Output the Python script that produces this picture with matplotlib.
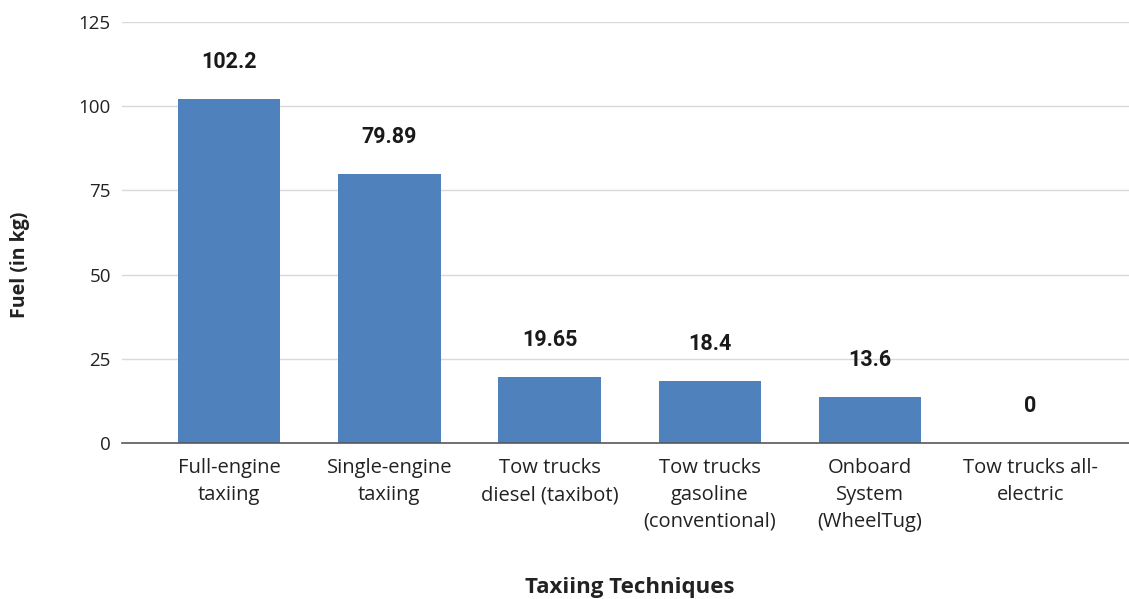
import matplotlib
matplotlib.use("Agg")
import matplotlib.pyplot as plt

plt.rcParams['font.family'] = ['Open Sans', 'DejaVu Sans']

techniques = ["Full-engine\ntaxiing", "Single-engine\ntaxiing", "Tow trucks\ndiesel (taxibot)",
              "Tow trucks\ngasoline\n(conventional)", "Onboard\nSystem\n(WheelTug)", "Tow trucks all-\nelectric"]
fuel = [102.2, 79.89, 19.65, 18.4, 13.6, 0]
value_labels = ["102.2", "79.89", "19.65", "18.4", "13.6", "0"]
y_ticks = [0, 25, 50, 75, 100, 125]

fig = plt.figure(figsize=(11.29, 5.99), dpi=100)
ax = fig.add_axes([122 / 1129, 1 - 443 / 599, 1007 / 1129, (443 - 22) / 599])

x = list(range(len(techniques)))
bars = ax.bar(x, fuel, width=0.64, color="#4f81bd", zorder=3)

# value label above each bar
for b, lab in zip(bars, value_labels):
    ax.annotate(lab, (b.get_x() + b.get_width() / 2, b.get_height()),
                xytext=(0, 26.6), textcoords="offset points",
                ha="center", va="center", fontsize=15.5, fontweight="bold",
                family=["Roboto", "DejaVu Sans"], color="#1a1a1a")

ax.set_xlim(-0.667, 5.615)
ax.set_ylim(0, 125)
ax.set_yticks(y_ticks)
ax.set_xticks(x)
ax.set_xticklabels(techniques, linespacing=1.45, fontsize=14.5)
ax.tick_params(axis="both", length=0, colors="#222222")
ax.tick_params(axis="y", labelsize=13.5, pad=8)
ax.tick_params(axis="x", pad=11)
ax.yaxis.grid(True, color="#d9d9d9", linewidth=1, zorder=0)
for s in ["top", "right", "left"]:
    ax.spines[s].set_visible(False)
ax.spines["bottom"].set_color("#595959")
ax.spines["bottom"].set_linewidth(1.2)
ax.spines["bottom"].set_zorder(4)

fig.text(20 / 1129, 1 - 265 / 599, "Fuel (in kg)", rotation=90, ha="center", va="center",
         fontsize=14, fontweight="bold", color="#222222")
fig.text(630 / 1129, 1 - 587 / 599, "Taxiing Techniques", ha="center", va="center",
         fontsize=16, fontweight="bold", color="#222222")

fig.savefig("out.png", dpi=100)
